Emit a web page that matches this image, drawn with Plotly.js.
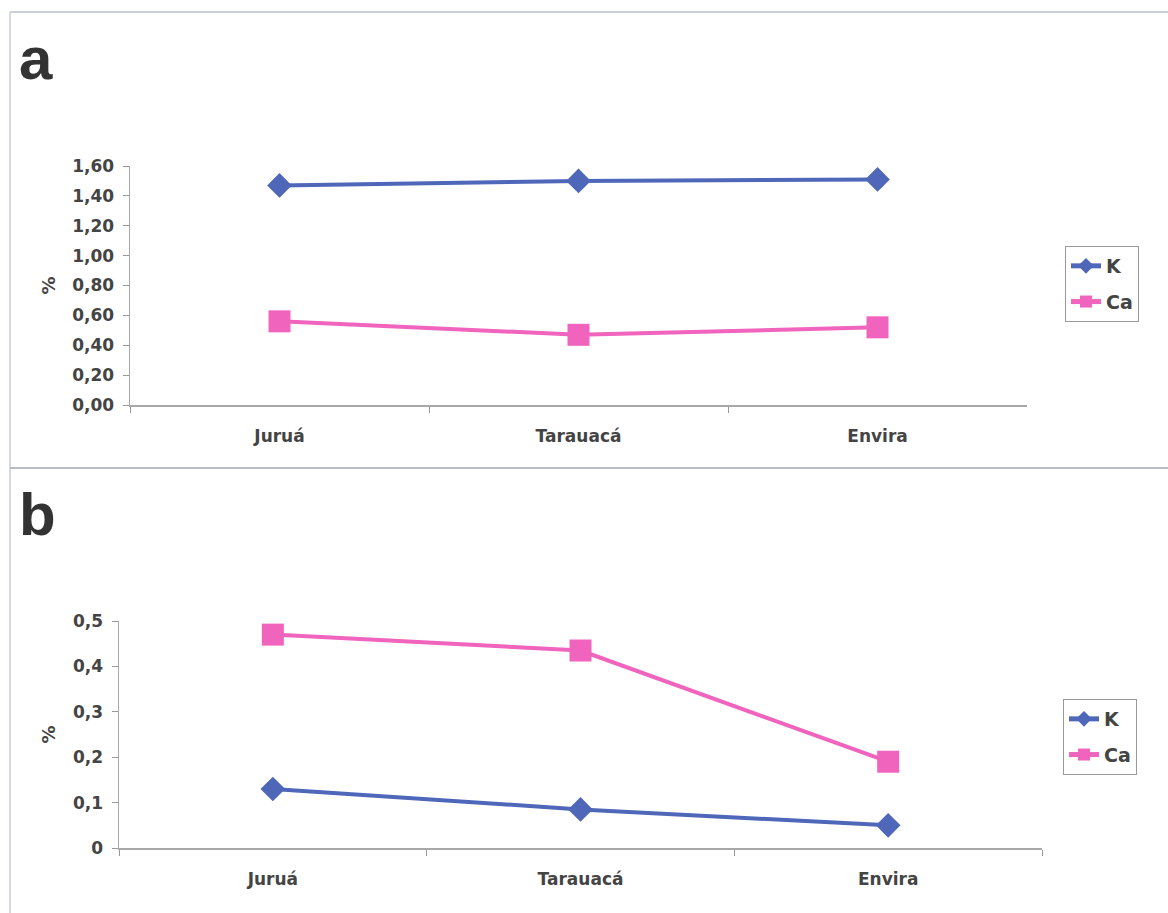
<!DOCTYPE html>
<html>
<head>
<meta charset="utf-8">
<script src="https://cdn.plot.ly/plotly-3.0.1.min.js"></script>
<style>html,body{margin:0;padding:0;background:#fff;}#chart{width:1168px;height:913px;}</style>
</head>
<body>
<div id="chart"></div>
<script>
const categories = ["Juruá", "Tarauacá", "Envira"];
const seriesNames = ["K", "Ca"];
const aK = [1.47, 1.50, 1.51];
const aCa = [0.56, 0.47, 0.52];
const bK = [0.13, 0.085, 0.05];
const bCa = [0.47, 0.435, 0.19];
const aTickVals = [0, 0.2, 0.4, 0.6, 0.8, 1.0, 1.2, 1.4, 1.6];
const aTickText = ["0,00", "0,20", "0,40", "0,60", "0,80", "1,00", "1,20", "1,40", "1,60"];
const bTickVals = [0, 0.1, 0.2, 0.3, 0.4, 0.5];
const bTickText = ["0", "0,1", "0,2", "0,3", "0,4", "0,5"];
const panelLabels = ["a", "b"];
const yTitle = "%";

const W = 1168, H = 913;
const blue = "#4f67b9", pink = "#f064bd";
const txt = "#444444";
const fontFam = "DejaVu Sans, sans-serif";
const letterFam = "Liberation Sans, Arial, sans-serif";

function tr(y, name, color, sym, size, xa, ya, leg, grp) {
  return {
    x: categories, y: y, name: name, type: "scatter", mode: "lines+markers",
    xaxis: xa, yaxis: ya, legend: leg, legendgroup: grp,
    line: {color: color, width: 4},
    marker: {symbol: sym, size: size, color: color}
  };
}
const data = [
  tr(aK, seriesNames[0], blue, "diamond", 19, "x", "y", "legend", "a1"),
  tr(aCa, seriesNames[1], pink, "square", 22, "x", "y", "legend", "a2"),
  tr(bK, seriesNames[0], blue, "diamond", 19, "x2", "y2", "legend2", "b1"),
  tr(bCa, seriesNames[1], pink, "square", 22, "x2", "y2", "legend2", "b2")
];

function px(x) { return x / W; }
function py(y) { return 1 - y / H; }

const axFont = {family: fontFam, size: 17, color: txt, weight: "bold"};
function xax(d, anchor) {
  return {
    domain: d, anchor: anchor, type: "category", range: [-0.5, 2.5],
    tickson: "boundaries", ticks: "outside", ticklen: 6, tickcolor: "#999",
    showline: true, linecolor: "#a8a8a8", linewidth: 1.5, showgrid: false, zeroline: false,
    tickfont: axFont, ticklabelstandoff: 15, fixedrange: true
  };
}
function yax(d, anchor, range, tv, tt) {
  return {
    domain: d, anchor: anchor, range: range, tickvals: tv, ticktext: tt,
    ticks: "outside", ticklen: 6, tickcolor: "#999",
    showline: true, linecolor: "#a8a8a8", linewidth: 1.5, showgrid: false, zeroline: false,
    tickfont: axFont, ticklabelstandoff: 5,
    title: {text: yTitle, font: {family: fontFam, size: 18, color: txt, weight: "bold"}, standoff: 12},
    fixedrange: true
  };
}
const legFont = {family: fontFam, size: 19, color: txt, weight: "bold"};
function leg(x, y) {
  return {x: px(x), y: py(y), xanchor: "left", yanchor: "top", bordercolor: "#999", borderwidth: 1,
          font: legFont, bgcolor: "#fff", tracegroupgap: 8, itemsizing: "constant",
          traceorder: "grouped", entrywidth: 110, entrywidthmode: "pixels"};
}
const layout = {
  width: W, height: H,
  margin: {l: 0, r: 0, t: 0, b: 0},
  paper_bgcolor: "#fff", plot_bgcolor: "#fff",
  showlegend: true,
  xaxis: xax([px(130), px(1027)], "y"),
  yaxis: yax([py(405), py(166)], "x", [0, 1.6], aTickVals, aTickText),
  xaxis2: xax([px(119), px(1042)], "y2"),
  yaxis2: yax([py(848), py(621)], "x2", [0, 0.5], bTickVals, bTickText),
  legend: leg(1065, 246),
  legend2: leg(1063, 699),
  annotations: [
    {text: panelLabels[0], xref: "paper", yref: "paper", x: px(17), y: py(23), xanchor: "left", yanchor: "top",
     showarrow: false, font: {family: letterFam, size: 60, color: "#333", weight: "bold"}},
    {text: panelLabels[1], xref: "paper", yref: "paper", x: px(17), y: py(479), xanchor: "left", yanchor: "top",
     showarrow: false, font: {family: letterFam, size: 60, color: "#333", weight: "bold"}}
  ],
  shapes: [
    {type: "line", xref: "paper", yref: "paper", x0: px(10), x1: 1, y0: py(12), y1: py(12), line: {color: "#b8c0c8", width: 1.5}},
    {type: "line", xref: "paper", yref: "paper", x0: px(10), x1: px(10), y0: py(12), y1: 0, line: {color: "#c8ccd8", width: 1.5}},
    {type: "line", xref: "paper", yref: "paper", x0: px(10), x1: 1, y0: py(468), y1: py(468), line: {color: "#a0a8b0", width: 1.5}}
  ]
};
Plotly.newPlot("chart", data, layout, {displayModeBar: false, staticPlot: true});
</script>
</body>
</html>
